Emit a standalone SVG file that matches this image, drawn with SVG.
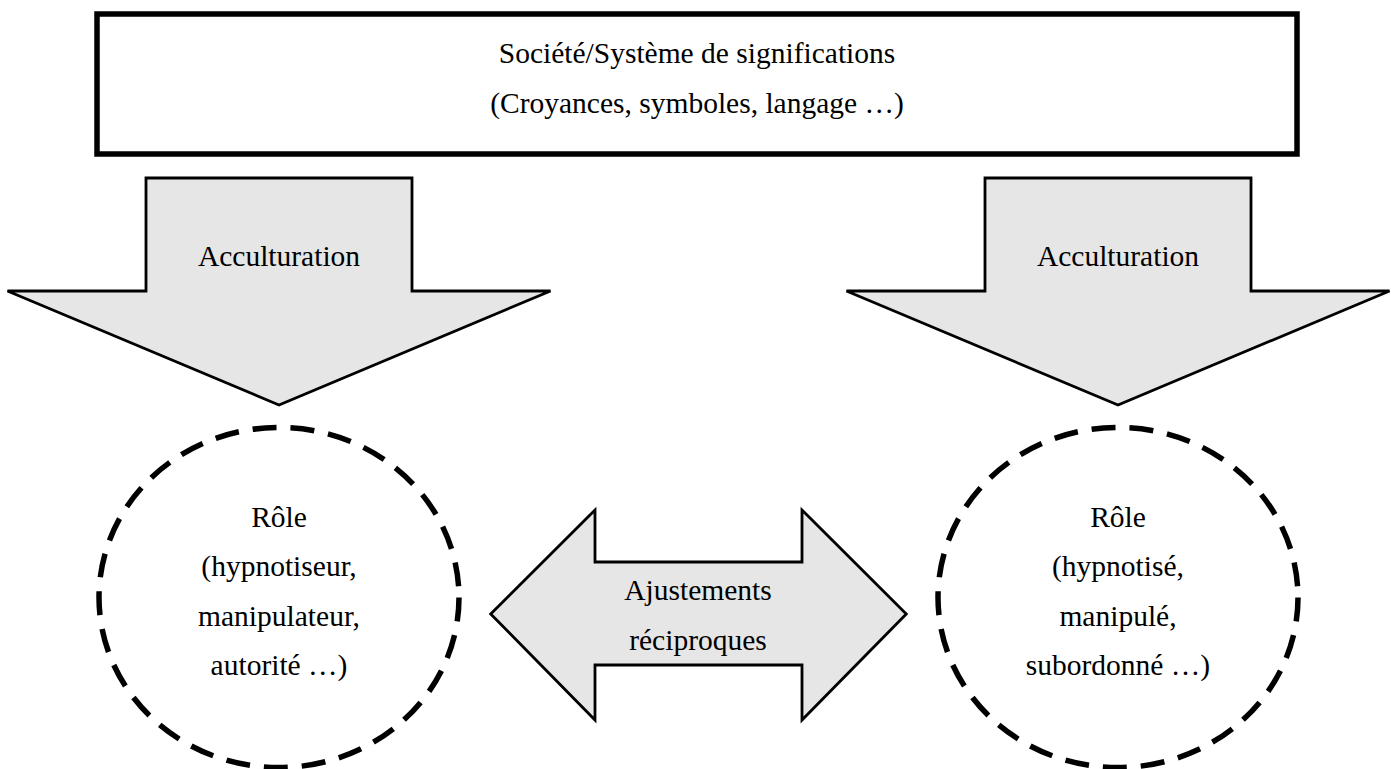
<svg xmlns="http://www.w3.org/2000/svg" width="1391" height="769" viewBox="0 0 1391 769">
<style>
  .txt { font-family: "Liberation Serif", "Times New Roman", serif; font-size: 29.5px; fill: #000; text-anchor: middle; }
  .arrow { fill: #e6e6e6; stroke: #000; stroke-width: 2.8; stroke-linejoin: miter; }
  .role { fill: none; stroke: #000; stroke-width: 5.5; stroke-dasharray: 24 14; }
</style>
<rect width="1391" height="769" fill="#fff"/>
<g id="society">
  <rect x="97" y="14" width="1200" height="140" fill="#fff" stroke="#000" stroke-width="5.5"/>
  <text class="txt" x="697" y="63">Société/Système de significations</text>
  <text class="txt" x="697" y="113">(Croyances, symboles, langage …)</text>
</g>
<g id="connectors">
  <g id="acculturation-left">
    <path class="arrow" d="M146,178 H412 V291 H550.5 L279,405 L7.5,291 H146 Z"/>
    <text class="txt" x="279" y="266">Acculturation</text>
  </g>
  <g id="acculturation-right">
    <path class="arrow" d="M985,178 H1251 V291 H1389.5 L1118,405 L846.5,291 H985 Z"/>
    <text class="txt" x="1118" y="266">Acculturation</text>
  </g>
  <g id="ajustements">
    <path class="arrow" d="M490.7,614 L595,510 V562 H802 V510 L906.3,614 L802,720 V665 H595 V720 Z"/>
    <text class="txt" x="698" y="600">Ajustements</text>
    <text class="txt" x="698" y="650">réciproques</text>
  </g>
</g>
<g id="role-left">
  <ellipse class="role" cx="279" cy="597.5" rx="180" ry="170"/>
  <text class="txt" x="279" y="527">Rôle</text>
  <text class="txt" x="279" y="576">(hypnotiseur,</text>
  <text class="txt" x="279" y="626">manipulateur,</text>
  <text class="txt" x="279" y="675">autorité …)</text>
</g>
<g id="role-right">
  <ellipse class="role" cx="1118" cy="597.5" rx="180" ry="170"/>
  <text class="txt" x="1118" y="527">Rôle</text>
  <text class="txt" x="1118" y="576">(hypnotisé,</text>
  <text class="txt" x="1118" y="626">manipulé,</text>
  <text class="txt" x="1118" y="675">subordonné …)</text>
</g>
</svg>
